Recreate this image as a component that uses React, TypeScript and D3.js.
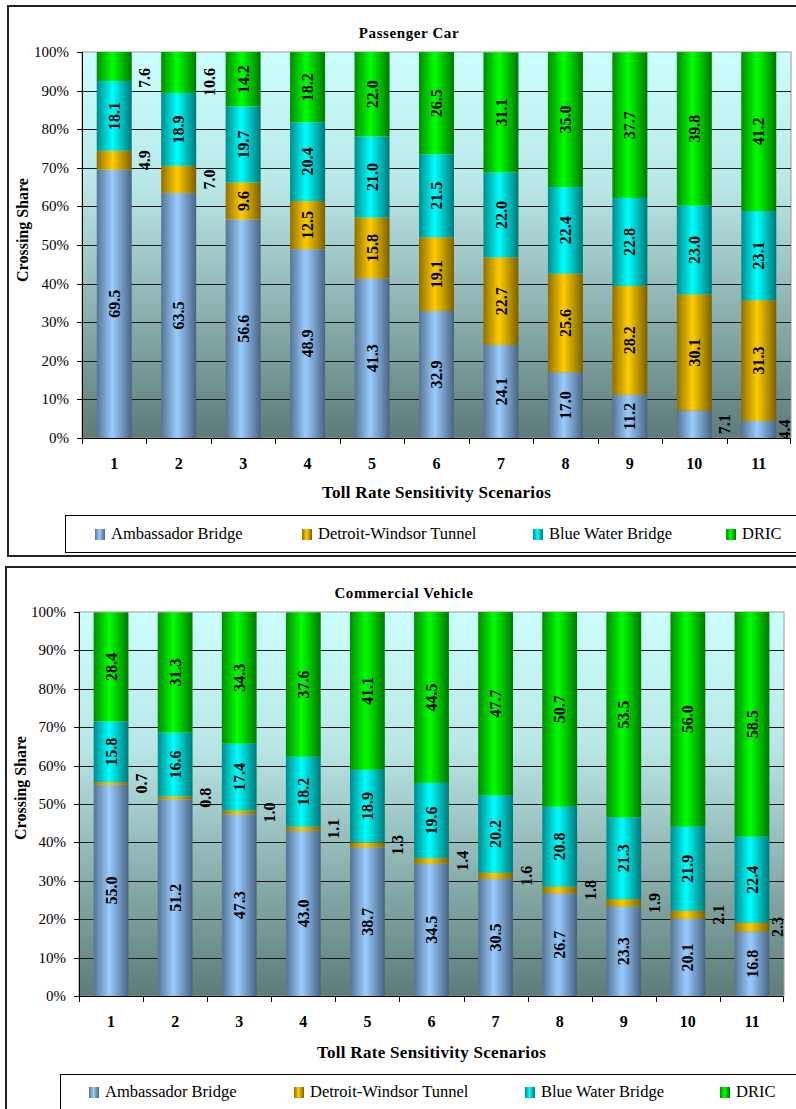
import React from 'react';
import * as d3 from 'd3';

const categories = ['1', '2', '3', '4', '5', '6', '7', '8', '9', '10', '11'];
const seriesNames = ['Ambassador Bridge', 'Detroit-Windsor Tunnel', 'Blue Water Bridge', 'DRIC'];
const yTickValues = [0, 10, 20, 30, 40, 50, 60, 70, 80, 90, 100];

const carAmbassador = [69.5, 63.5, 56.6, 48.9, 41.3, 32.9, 24.1, 17.0, 11.2, 7.1, 4.4];
const carTunnel = [4.9, 7.0, 9.6, 12.5, 15.8, 19.1, 22.7, 25.6, 28.2, 30.1, 31.3];
const carBlueWater = [18.1, 18.9, 19.7, 20.4, 21.0, 21.5, 22.0, 22.4, 22.8, 23.0, 23.1];
const carDric = [7.6, 10.6, 14.2, 18.2, 22.0, 26.5, 31.1, 35.0, 37.7, 39.8, 41.2];

const cvAmbassador = [55.0, 51.2, 47.3, 43.0, 38.7, 34.5, 30.5, 26.7, 23.3, 20.1, 16.8];
const cvTunnel = [0.7, 0.8, 1.0, 1.1, 1.3, 1.4, 1.6, 1.8, 1.9, 2.1, 2.3];
const cvBlueWater = [15.8, 16.6, 17.4, 18.2, 18.9, 19.6, 20.2, 20.8, 21.3, 21.9, 22.4];
const cvDric = [28.4, 31.3, 34.3, 37.6, 41.1, 44.5, 47.7, 50.7, 53.5, 56.0, 58.5];

// style: which labels are drawn beside the bar, as [seriesIndex, categoryIndex]
const carOutside = [[3, 0], [3, 1], [1, 0], [1, 1], [0, 9], [0, 10]];
const cvOutside = categories.map((_, i) => [1, i]);

const seriesColors = [
  { dark: '#4a6482', light: '#99ccff' },
  { dark: '#7a6000', light: '#ffcc00' },
  { dark: '#007878', light: '#00ffff' },
  { dark: '#007800', light: '#00ff00' },
];

const SERIF = "'Liberation Serif', 'Times New Roman', Times, serif";

type PanelProps = {
  id: string;
  title: string;
  values: number[][];
  outside: number[][];
  frame: { x: number; y: number; w: number; h: number };
  plot: { x0: number; x1: number; y0: number; y1: number };
  titleY: number;
  titleX: number;
  yTitle: { x: number; y: number };
  catY: number;
  xTitleY: number;
  legend: { x: number; y: number; w: number; h: number; textY: number; items: number[] };
};

function Panel(p: PanelProps) {
  const { plot } = p;
  const x = d3.scaleBand<string>().domain(categories).range([plot.x0, plot.x1]).padding(0);
  const y = d3.scaleLinear().domain([0, 100]).range([plot.y1, plot.y0]).clamp(true);
  const barW = x.bandwidth() * 0.543;
  const rows = categories.map((c, i) => {
    const r: any = { cat: c };
    seriesNames.forEach((s, k) => (r[s] = p.values[k][i]));
    return r;
  });
  const stacked = d3.stack<any>().keys(seriesNames)(rows);
  const isOutside = (k: number, i: number) => p.outside.some(([a, b]) => a === k && b === i);
  const gid = (k: number) => `${p.id}-g${k}`;
  const bold = { fontFamily: SERIF, fontWeight: 700 } as React.CSSProperties;
  const reg = { fontFamily: SERIF } as React.CSSProperties;
  const labelSize = 16;

  return (
    <g>
      <defs>
        <linearGradient id={`${p.id}-bg`} x1="0" y1="0" x2="0" y2="1">
          <stop offset="0" stopColor="#ccffff" />
          <stop offset="0.35" stopColor="#b9e6e6" />
          <stop offset="1" stopColor="#5e7b78" />
        </linearGradient>
        {seriesColors.map((c, k) => (
          <linearGradient key={k} id={gid(k)} x1="0" y1="0" x2="1" y2="0">
            <stop offset="0" stopColor={d3.interpolateRgb(c.dark, c.light)(0.15)} />
            <stop offset="0.45" stopColor={c.light} />
            <stop offset="1" stopColor={c.dark} />
          </linearGradient>
        ))}
      </defs>
      <rect x={p.frame.x} y={p.frame.y} width={p.frame.w} height={p.frame.h} fill="#fff" stroke="#222" strokeWidth={2} />
      <text x={p.titleX} y={p.titleY} textAnchor="middle" style={{ ...bold, fontSize: 15, letterSpacing: 0.6 }}>
        {p.title}
      </text>
      <rect x={plot.x0} y={plot.y0} width={plot.x1 - plot.x0} height={plot.y1 - plot.y0} fill={`url(#${p.id}-bg)`} stroke="#9a9a9a" strokeWidth={1} />
      {yTickValues.slice(1, -1).map((t) => (
        <line key={t} x1={plot.x0} x2={plot.x1} y1={Math.round(y(t)) + 0.5} y2={Math.round(y(t)) + 0.5} stroke="#1a1a1a" strokeWidth={1} />
      ))}
      {stacked.map((layer, k) =>
        layer.map((d, i) => {
          const cx = (x(categories[i]) as number) + x.bandwidth() / 2;
          const top = y(d[1]);
          const bot = y(d[0]);
          return (
            <rect key={`${k}-${i}`} x={cx - barW / 2} y={top} width={barW} height={Math.max(0, bot - top)} fill={`url(#${gid(k)})`} />
          );
        })
      )}
      <line x1={plot.x0 + 0.5} x2={plot.x0 + 0.5} y1={plot.y0} y2={plot.y1} stroke="#000" />
      <line x1={plot.x0} x2={plot.x1} y1={plot.y1 + 0.5} y2={plot.y1 + 0.5} stroke="#000" />
      {yTickValues.map((t) => (
        <g key={t}>
          <line x1={plot.x0 - 5} x2={plot.x0} y1={Math.round(y(t)) + 0.5} y2={Math.round(y(t)) + 0.5} stroke="#000" />
          <text x={plot.x0 - 13} y={y(t) + 5} textAnchor="end" style={{ ...reg, fontSize: 15 }}>
            {t}%
          </text>
        </g>
      ))}
      {categories.map((c) => (
        <line key={c} x1={Math.round(x(c) as number) + 0.5} x2={Math.round(x(c) as number) + 0.5} y1={plot.y1} y2={plot.y1 + 6} stroke="#000" />
      ))}
      <line x1={plot.x1 - 0.5} x2={plot.x1 - 0.5} y1={plot.y1} y2={plot.y1 + 6} stroke="#000" />
      {categories.map((c) => (
        <text key={c} x={(x(c) as number) + x.bandwidth() / 2} y={p.catY} textAnchor="middle" style={{ ...bold, fontSize: 16 }}>
          {c}
        </text>
      ))}
      <text x={(plot.x0 + plot.x1) / 2} y={p.xTitleY} textAnchor="middle" style={{ ...bold, fontSize: 17, letterSpacing: 0.3 }}>
        Toll Rate Sensitivity Scenarios
      </text>
      <text transform={`translate(${p.yTitle.x},${p.yTitle.y}) rotate(-90)`} textAnchor="middle" dy="0.35em" style={{ ...bold, fontSize: 16 }}>
        Crossing Share
      </text>
      {stacked.map((layer, k) =>
        layer.map((d, i) => {
          const v = p.values[k][i];
          const txt = v.toFixed(1);
          const cx = (x(categories[i]) as number) + x.bandwidth() / 2;
          let cy = (y(d[0]) + y(d[1])) / 2;
          const out = isOutside(k, i);
          const half = (txt.length - 0.5) * labelSize * 0.25;
          if (out) cy = Math.max(cy, plot.y0 + 16 + half);
          const lx = out ? Math.min(cx + barW / 2 + 13, plot.x1 - 7) : cx;
          return (
            <text
              key={`l${k}-${i}`}
              transform={`translate(${lx},${cy}) rotate(-90)`}
              textAnchor="middle"
              dy="0.35em"
              style={{ ...bold, fontSize: labelSize }}
            >
              {txt}
            </text>
          );
        })
      )}
      <rect x={p.legend.x + 0.5} y={p.legend.y + 0.5} width={p.legend.w} height={p.legend.h} fill="#fff" stroke="#000" strokeWidth={1} />
      {seriesNames.map((s, k) => (
        <g key={s}>
          <rect x={p.legend.items[k]} y={p.legend.textY - 10} width={10} height={11} fill={`url(#${gid(k)})`} />
          <text x={p.legend.items[k] + 16} y={p.legend.textY} style={{ ...reg, fontSize: 16.5 }}>
            {s}
          </text>
        </g>
      ))}
    </g>
  );
}

export default function App() {
  return (
    <svg width={796} height={1109} style={{ position: 'absolute', left: 0, top: 0, display: 'block' }}>
      <rect x={0} y={0} width={796} height={1109} fill="#fff" />
      <Panel
        id="car"
        title="Passenger Car"
        values={[carAmbassador, carTunnel, carBlueWater, carDric]}
        outside={carOutside}
        frame={{ x: 8, y: 6, w: 820, h: 550 }}
        plot={{ x0: 82, x1: 791, y0: 52, y1: 438 }}
        titleX={409}
        titleY={38}
        yTitle={{ x: 22, y: 230 }}
        catY={469}
        xTitleY={498}
        legend={{ x: 65, y: 515, w: 760, h: 37, textY: 539, items: [95, 302, 533, 726] }}
      />
      <Panel
        id="cv"
        title="Commercial Vehicle"
        values={[cvAmbassador, cvTunnel, cvBlueWater, cvDric]}
        outside={cvOutside}
        frame={{ x: 6, y: 567, w: 820, h: 560 }}
        plot={{ x0: 79, x1: 784, y0: 612, y1: 996 }}
        titleX={404}
        titleY={598}
        yTitle={{ x: 20, y: 788 }}
        catY={1027}
        xTitleY={1058}
        legend={{ x: 60, y: 1074, w: 760, h: 60, textY: 1097, items: [89, 294, 525, 720] }}
      />
    </svg>
  );
}
